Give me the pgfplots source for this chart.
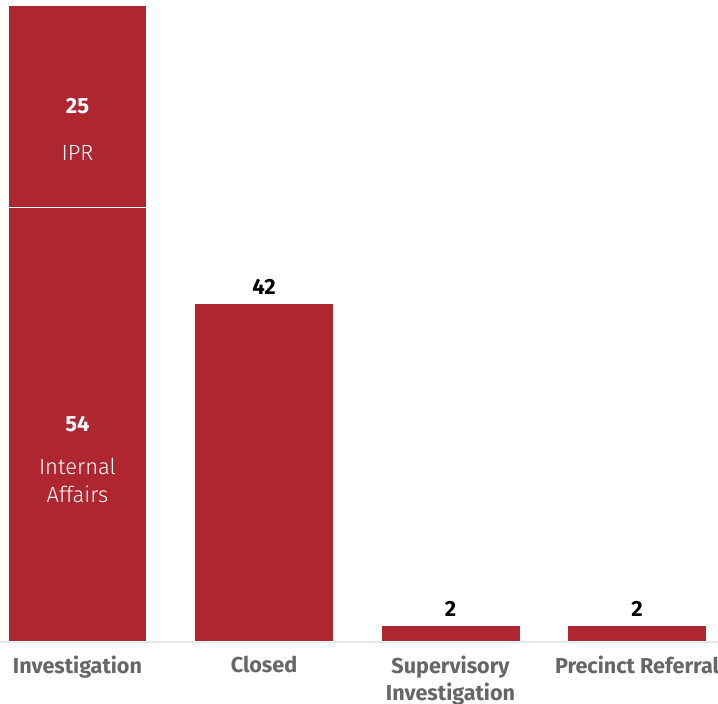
\documentclass[border=0pt]{standalone}
\usepackage{pgfplots}
\pgfplotsset{compat=1.18}
\usepackage{fontspec}
\setmainfont{Fira Sans}
\newfontfamily\lightfont{Fira Sans Light}
\definecolor{barred}{HTML}{AE2630}
\definecolor{labgray}{HTML}{666666}
\definecolor{sepgray}{HTML}{E6E6E6}

\pgfplotsset{
  base/.style={
    at={(0,0)}, anchor=south west,
    width=359pt, height=321pt, scale only axis,
    xmin=-0.4155, xmax=3.434,
    ymin=0, ymax=79.7,
    enlargelimits=false,
    clip=false,
  },
  seglabel/.style={draw=none, nodes near coords, point meta=explicit symbolic,
    every node near coord/.style={anchor=north, inner sep=0pt, text=white,
      align=center, yshift=#1, font=\fontsize{11}{14}\lightfont}},
}

\begin{document}
\begin{tikzpicture}
  \begin{axis}[
      base,
      ybar stacked,
      bar width=0.745,
      axis y line=none,
      axis x line*=bottom,
      x axis line style={draw=sepgray, line width=0.6pt, -},
      xtick={0,1,2,3},
      xticklabels={Investigation, Closed, {Supervisory\\Investigation}, Precinct Referral},
      xticklabel style={font=\fontsize{10.8}{13.5}\selectfont\bfseries, text=labgray,
        align=center, anchor=north, yshift=-3.6pt},
      x tick style={draw=none},
      extra x ticks={0.5,1.5,2.5},
      extra x tick labels={},
      extra x tick style={tick align=outside, major tick length=4.5pt,
        tick style={draw=sepgray, line width=0.6pt}},
    ]
    % internal affairs / main outcome
    \addplot[fill=barred, draw=white, line width=0.5pt]
      coordinates {(0,54) (1,42) (2,2) (3,2)};
    % IPR on top of investigation
    \addplot[fill=barred, draw=white, line width=0.5pt]
      coordinates {(0,25)};
  \end{axis}

  \begin{axis}[base, hide axis]
    % numbers inside the stacked bar
    \addplot[draw=none, nodes near coords, point meta=explicit symbolic,
      every node near coord/.style={anchor=center, inner sep=0pt, text=white,
        font=\fontsize{11}{12}\selectfont\bfseries}]
      coordinates {(0,27) [54] (0,66.5) [25]};
    % segment names
    \addplot[seglabel=-16.5pt] coordinates {(0,27) [{Internal\\Affairs}]};
    \addplot[seglabel=-19.5pt] coordinates {(0,66.5) [IPR]};
    % numbers above bars
    \addplot[draw=none, nodes near coords, point meta=explicit symbolic,
      every node near coord/.style={anchor=south, inner sep=0pt, text=black,
        yshift=4.5pt, font=\fontsize{11}{12}\selectfont\bfseries}]
      coordinates {(1,42) [42] (2,2) [2] (3,2) [2]};
  \end{axis}

  \pgfresetboundingbox
  \path[use as bounding box] (0,-31pt) rectangle (359pt,321pt);
\end{tikzpicture}
\end{document}
